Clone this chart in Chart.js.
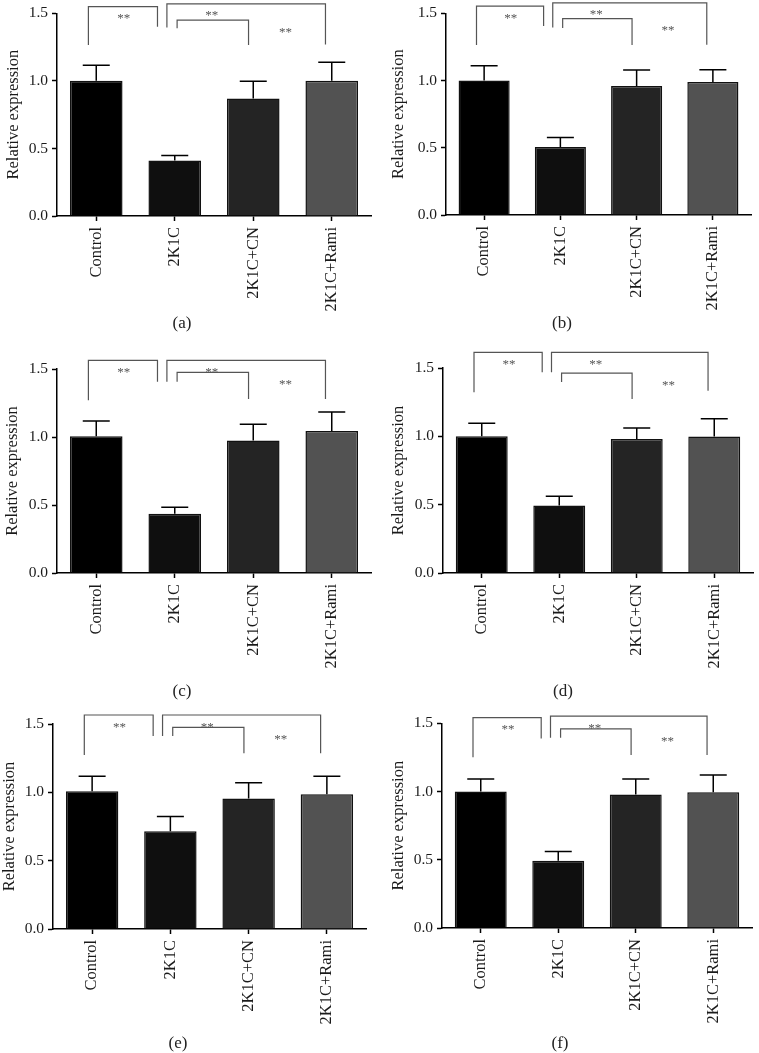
<!DOCTYPE html>
<html>
<head>
<meta charset="utf-8">
<script src="https://cdn.jsdelivr.net/npm/chart.js@4"></script>
<style>
  body { margin: 0; background: #fff; }
  #page { position: relative; width: 759px; height: 1053px; overflow: hidden; }
  .panel { position: absolute; }
  .tag {
    position: absolute;
    font: 17px "Liberation Serif", "DejaVu Serif", serif;
    color: #222;
    transform: translate(-50%, -50%);
  }
</style>
</head>
<body>
<div id="page"></div>
<script>
const groups = ["Control", "2K1C", "2K1C+CN", "2K1C+Rami"];
const panelNames = ["(a)", "(b)", "(c)", "(d)", "(e)", "(f)"];
const yTicks = [0, 0.5, 1.0, 1.5];

// bar heights and upper error (SD) per panel
const meanA = [1.00, 0.41, 0.87, 1.00];
const sdA = [0.115, 0.037, 0.127, 0.137];
const meanB = [1.00, 0.505, 0.96, 0.99];
const sdB = [0.11, 0.072, 0.118, 0.09];
const meanC = [1.005, 0.436, 0.975, 1.044];
const sdC = [0.113, 0.047, 0.118, 0.14];
const meanD = [1.00, 0.493, 0.98, 0.998];
const sdD = [0.095, 0.068, 0.081, 0.131];
const meanE = [1.008, 0.716, 0.954, 0.986];
const sdE = [0.11, 0.107, 0.117, 0.132];
const meanF = [1.00, 0.493, 0.978, 0.995];
const sdF = [0.092, 0.067, 0.114, 0.126];

// significance brackets: ends in category units, heights [top, left end, right end]
const bracketX = [[-0.1, 0.78], [0.9, 2.92], [1.03, 1.94]];
const starX = [0.35, 1.47, 2.41];
const starText = ["**", "**", "**"];
const bracketA = [[1.55, 1.265, 1.40], [1.57, 1.395, 1.27], [1.45, 1.39, 1.265]];
const bracketB = [[1.553, 1.264, 1.406], [1.577, 1.394, 1.267], [1.46, 1.39, 1.264]];
const bracketC = [[1.564, 1.27, 1.407], [1.564, 1.407, 1.279], [1.475, 1.407, 1.279]];
const bracketD = [[1.615, 1.322, 1.468], [1.615, 1.468, 1.334], [1.463, 1.398, 1.273]];
const bracketE = [[1.566, 1.273, 1.412], [1.566, 1.412, 1.286], [1.475, 1.412, 1.286]];
const bracketF = [[1.541, 1.251, 1.389], [1.553, 1.394, 1.268], [1.459, 1.394, 1.268]];

const barColors = ["#000000", "#0f0f0f", "#242424", "#525252"];
const serif = "'Liberation Serif', 'DejaVu Serif', serif";

// canvas placement per panel
const layouts = [
  { left: 0,   top: 0,   yw: 57, pw: 314, pt: 11, xh: 114, tp: 4,   tag: [182, 323] },
  { left: 380, top: 0,   yw: 66, pw: 305, pt: 10, xh: 115, tp: 9,   tag: [562, 323] },
  { left: 0,   top: 350, yw: 57, pw: 314, pt: 19, xh: 107, tp: 3,   tag: [182, 691] },
  { left: 380, top: 350, yw: 63, pw: 310, pt: 18, xh: 107, tp: 9,   tag: [563, 691] },
  { left: 0,   top: 710, yw: 53, pw: 313, pt: 14, xh: 111, tp: 0,   tag: [178, 1043] },
  { left: 380, top: 710, yw: 62, pw: 310, pt: 11, xh: 112, tp: 8.5, tag: [560, 1043] },
];

const means = [meanA, meanB, meanC, meanD, meanE, meanF];
const sds = [sdA, sdB, sdC, sdD, sdE, sdF];
const brackets = [bracketA, bracketB, bracketC, bracketD, bracketE, bracketF];

Chart.defaults.font.family = serif;
Chart.defaults.color = "#1a1a1a";

const errorBars = {
  id: "errorBars",
  afterDatasetsDraw(chart, args, opts) {
    const { ctx } = chart;
    const meta = chart.getDatasetMeta(0);
    const y = chart.scales.y;
    ctx.save();
    ctx.strokeStyle = "#000";
    ctx.lineWidth = 1.5;
    meta.data.forEach((bar, i) => {
      const m = opts.mean[i];
      const top = y.getPixelForValue(m + opts.sd[i]);
      const base = y.getPixelForValue(m);
      ctx.beginPath();
      ctx.moveTo(bar.x, base);
      ctx.lineTo(bar.x, top);
      ctx.moveTo(bar.x - 13.5, top);
      ctx.lineTo(bar.x + 13.5, top);
      ctx.stroke();
    });
    ctx.restore();
  },
};

const starsPlugin = {
  id: "stars",
  afterDraw(chart, args, opts) {
    const { ctx } = chart;
    const xb = chart.scales.xb;
    const y = chart.scales.y;
    ctx.save();
    ctx.fillStyle = "#555";
    ctx.font = "13px " + serif;
    ctx.textAlign = "center";
    ctx.textBaseline = "middle";
    opts.items.forEach((s) => {
      ctx.fillText(s.text, xb.getPixelForValue(s.x), y.getPixelForValue(s.y));
    });
    ctx.restore();
  },
};

const page = document.getElementById("page");

layouts.forEach((lay, p) => {
  const canvas = document.createElement("canvas");
  canvas.className = "panel";
  canvas.width = 380;
  canvas.height = 330;
  canvas.style.left = lay.left + "px";
  canvas.style.top = lay.top + "px";
  page.appendChild(canvas);

  const tag = document.createElement("div");
  tag.className = "tag";
  tag.textContent = panelNames[p];
  tag.style.left = lay.tag[0] + "px";
  tag.style.top = lay.tag[1] + "px";
  page.appendChild(tag);

  const bracketSets = brackets[p].map((b, k) => ({
    type: "line",
    xAxisID: "xb",
    yAxisID: "y",
    data: [
      { x: bracketX[k][0], y: b[1] },
      { x: bracketX[k][0], y: b[0] },
      { x: bracketX[k][1], y: b[0] },
      { x: bracketX[k][1], y: b[2] },
    ],
    borderColor: "#555",
    borderWidth: 1.2,
    pointRadius: 0,
    tension: 0,
    fill: false,
    clip: false,
  }));

  const stars = brackets[p].map((b, k) => ({
    x: starX[k],
    y: b[0] - 0.09,
    text: starText[k],
  }));

  new Chart(canvas.getContext("2d"), {
    type: "bar",
    data: {
      labels: groups,
      datasets: [
        {
          data: means[p],
          xAxisID: "x",
          yAxisID: "y",
          backgroundColor: barColors,
          borderColor: "#111",
          borderWidth: 1.5,
          grouped: false,
          barPercentage: 0.67,
          categoryPercentage: 1,
        },
        ...bracketSets,
      ],
    },
    options: {
      responsive: false,
      animation: false,
      events: [],
      layout: {
        padding: { top: lay.pt, right: 380 - lay.yw - lay.pw, left: 0, bottom: 0 },
      },
      plugins: {
        legend: { display: false },
        tooltip: { enabled: false },
        errorBars: { mean: means[p], sd: sds[p] },
        stars: { items: stars },
      },
      scales: {
        x: {
          type: "category",
          offset: true,
          afterFit(scale) { scale.height = lay.xh; },
          grid: {
            offset: false,
            drawOnChartArea: false,
            drawTicks: true,
            tickLength: 5,
            tickWidth: 1.5,
            color: "#000",
          },
          border: { color: "#000", width: 1.5 },
          ticks: {
            autoSkip: false,
            maxRotation: 90,
            minRotation: 90,
            padding: 6,
            font: { size: 16.5 },
            color: "#1a1a1a",
          },
        },
        xb: {
          type: "linear",
          min: -0.5,
          max: 3.5,
          offset: false,
          display: false,
        },
        y: {
          min: 0,
          max: 1.5,
          afterFit(scale) { scale.width = lay.yw; },
          afterBuildTicks(scale) {
            scale.ticks = yTicks.map((v) => ({ value: v }));
          },
          grid: {
            drawOnChartArea: false,
            drawTicks: true,
            tickLength: 5,
            tickWidth: 1.5,
            color: "#000",
          },
          border: { color: "#000", width: 1.5 },
          ticks: {
            padding: 4,
            font: { size: 15.5 },
            color: "#1a1a1a",
            callback: (v) => Number(v).toFixed(1),
          },
          title: {
            display: true,
            text: "Relative expression",
            font: { size: 16.5 },
            color: "#1a1a1a",
            padding: { top: lay.tp, bottom: 0 },
          },
        },
      },
    },
    plugins: [errorBars, starsPlugin],
  });
});
</script>
</body>
</html>
